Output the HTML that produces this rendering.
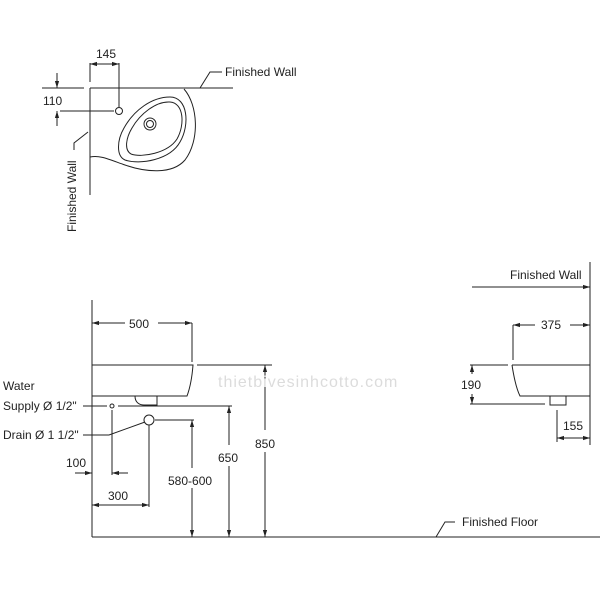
<!DOCTYPE html>
<html><head><meta charset="utf-8"><style>
html,body{margin:0;padding:0;background:#fff;}
svg{display:block}
text{font-family:"Liberation Sans",sans-serif;font-size:12px;fill:#222}
</style></head><body>
<svg width="600" height="600" viewBox="0 0 600 600" xmlns="http://www.w3.org/2000/svg">
<defs>
<marker id="a" viewBox="0 0 10 10" refX="10" refY="5" markerWidth="7" markerHeight="7" orient="auto-start-reverse"><path d="M0,2 L10,5 L0,8 z" fill="#222"/></marker>
</defs>
<g stroke="#222" stroke-width="1" fill="none">
<!-- top view -->
<line x1="90" y1="88" x2="233" y2="88"/>
<line x1="90" y1="88" x2="90" y2="195"/>
<path d="M184,89 C198,105 200,140 185,160 C172,175 145,172 125,165 C108,159 100,155 90,157"/>
<path d="M170,97 C188,97 190,125 180,142 C170,160 140,165 125,160 C116,156 117,140 124,128 C134,110 152,97 170,97 Z"/>
<path d="M170,102 C184,103 185,125 177,139 C168,153 142,158 131,154 C124,150 126,138 132,128 C140,114 156,101 170,102 Z"/>
<circle cx="150" cy="124" r="6"/><circle cx="150" cy="124" r="3.5"/>
<circle cx="119" cy="111" r="3.5"/>
<line x1="90" y1="63" x2="90" y2="82"/>
<line x1="119" y1="63" x2="119" y2="107"/>
<line x1="90" y1="64" x2="119" y2="64" marker-start="url(#a)" marker-end="url(#a)"/>
<line x1="42" y1="88" x2="84" y2="88"/>
<line x1="60" y1="111" x2="114" y2="111"/>
<line x1="57" y1="73" x2="57" y2="88" marker-end="url(#a)"/>
<line x1="57" y1="126" x2="57" y2="111" marker-end="url(#a)"/>
<path d="M200,88 L210,72 L222,72"/>
<path d="M88,132 L74,143 L74,150"/>
<!-- front view -->
<line x1="92" y1="300" x2="92" y2="537"/>
<line x1="92" y1="537" x2="600" y2="537"/>
<path d="M92,365 L193,365 C192,378 190,388 187,396 L92,396"/>
<path d="M135,396 C135,403 140,405 144,405 L157,405 L157,396"/>
<line x1="192" y1="323" x2="192" y2="362"/>
<line x1="92" y1="323" x2="125" y2="323" marker-start="url(#a)"/>
<line x1="158" y1="323" x2="192" y2="323" marker-end="url(#a)"/>
<line x1="197" y1="365" x2="272" y2="365"/>
<line x1="265" y1="365" x2="265" y2="430" marker-start="url(#a)"/>
<line x1="265" y1="452" x2="265" y2="537" marker-end="url(#a)"/>
<line x1="118" y1="406" x2="232" y2="406"/>
<line x1="229" y1="406" x2="229" y2="445" marker-start="url(#a)"/>
<line x1="229" y1="466" x2="229" y2="537" marker-end="url(#a)"/>
<line x1="155" y1="420" x2="194" y2="420"/>
<line x1="192" y1="420" x2="192" y2="468" marker-start="url(#a)"/>
<line x1="192" y1="488" x2="192" y2="537" marker-end="url(#a)"/>
<circle cx="112" cy="406" r="2"/>
<circle cx="149" cy="420" r="5"/>
<line x1="83" y1="406" x2="107" y2="406"/>
<path d="M83,435 L109,435 L145,422"/>
<line x1="112" y1="410" x2="112" y2="475"/>
<line x1="75" y1="473" x2="92" y2="473" marker-end="url(#a)"/>
<line x1="128" y1="473" x2="112" y2="473" marker-end="url(#a)"/>
<line x1="149" y1="425" x2="149" y2="507"/>
<line x1="92" y1="505" x2="149" y2="505" marker-start="url(#a)" marker-end="url(#a)"/>
<path d="M436,537 L445,522 L455,522"/>
<!-- side view -->
<line x1="590" y1="262" x2="590" y2="445"/>
<line x1="472" y1="287" x2="590" y2="287" marker-end="url(#a)"/>
<line x1="513" y1="325" x2="513" y2="360"/>
<line x1="513" y1="325" x2="535" y2="325" marker-start="url(#a)"/>
<line x1="570" y1="325" x2="590" y2="325" marker-end="url(#a)"/>
<path d="M512,365 L590,365 M512,365 C514,378 516,388 520,396 L590,396"/>
<path d="M550,396 L550,405 L566,405 L566,396"/>
<line x1="470" y1="365" x2="508" y2="365"/>
<line x1="470" y1="404" x2="545" y2="404"/>
<line x1="472" y1="374" x2="472" y2="365" marker-end="url(#a)"/>
<line x1="472" y1="394" x2="472" y2="404" marker-end="url(#a)"/>
<line x1="557" y1="410" x2="557" y2="442"/>
<line x1="557" y1="438" x2="590" y2="438" marker-start="url(#a)" marker-end="url(#a)"/>
</g>
<rect x="254" y="434" width="24" height="16" fill="#fff"/>
<rect x="217" y="448" width="25" height="16" fill="#fff"/>
<text x="96" y="58">145</text>
<text x="43" y="105">110</text>
<text x="225" y="76">Finished Wall</text>
<text transform="translate(76,232) rotate(-90)">Finished Wall</text>
<text x="129" y="328">500</text>
<text x="255" y="448">850</text>
<text x="218" y="462">650</text>
<text x="168" y="485">580-600</text>
<text x="3" y="390">Water</text>
<text x="3" y="410">Supply Ø 1/2"</text>
<text x="3" y="439">Drain Ø 1 1/2"</text>
<text x="66" y="467">100</text>
<text x="108" y="500">300</text>
<text x="462" y="526">Finished Floor</text>
<text x="510" y="279">Finished Wall</text>
<text x="541" y="329">375</text>
<text x="461" y="389">190</text>
<text x="563" y="430">155</text>
<text x="218" y="387" style="font-size:16px;fill:#dcdcdc;letter-spacing:1px">thietbivesinhcotto.com</text>
</svg>
</body></html>
